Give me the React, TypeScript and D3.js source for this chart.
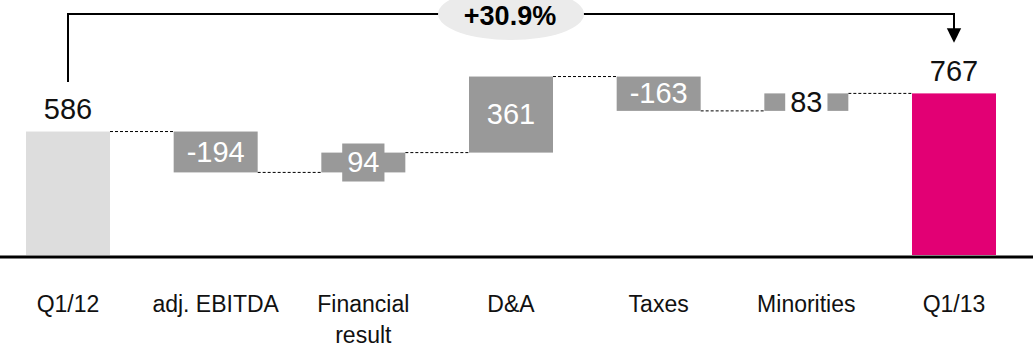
import React from "react";
import * as d3 from "d3";

const categories = ["Q1/12", "adj. EBITDA", "Financial result", "D&A", "Taxes", "Minorities", "Q1/13"];
const categoryLines = [["Q1/12"], ["adj. EBITDA"], ["Financial", "result"], ["D&A"], ["Taxes"], ["Minorities"], ["Q1/13"]];
const values = [586, -194, 94, 361, -163, 83, 767];
const kinds = ["start", "delta", "delta", "delta", "delta", "delta", "end"];

const W = 1033;
const H = 349;
const FONT = "'Liberation Sans', Arial, Helvetica, sans-serif";
const COLORS: Record<string, string> = { start: "#dddddd", delta: "#999999", end: "#e20074" };

export default function App() {
  const x = d3.scalePoint<string>().domain(categories).range([68, 954]);
  const y = d3.scaleLinear().domain([0, 767]).range([255, 93.4]);
  const bw = 84;

  let run = 0;
  const segs = categories.map((c, i) => {
    const v = values[i];
    let from: number, to: number;
    if (kinds[i] === "delta") {
      from = run;
      to = run + v;
      run = to;
    } else {
      from = 0;
      to = v;
      run = v;
    }
    const lo = Math.min(from, to);
    const hi = Math.max(from, to);
    return { c, i, v, lo, hi, from, to, kind: kinds[i] };
  });

  const fs = 29;
  const textW = (s: string) =>
    s.split("").reduce((a, ch) => a + (ch === "-" ? 0.333 : 0.556), 0) * fs;

  const growth = values[values.length - 1] / values[0] - 1;
  const growthLabel = d3.format("+.1%")(growth);
  const x0 = x(categories[0])!;
  const x1 = x(categories[categories.length - 1])!;
  const topY = 14;

  return (
    <svg width={W} height={H} style={{ position: "absolute", left: 0, top: 0 }} fontFamily={FONT}>
      {segs.slice(0, -1).map((s, i) => {
        const n = segs[i + 1];
        const level = s.kind === "delta" ? s.to : s.hi;
        return (
          <line
            key={"c" + i}
            x1={x(s.c)! + bw / 2}
            x2={x(n.c)! - bw / 2}
            y1={y(level)}
            y2={y(level)}
            stroke="#000"
            strokeWidth={1}
            strokeDasharray="3,2"
          />
        );
      })}
      {segs.map((s) => (
        <rect
          key={"b" + s.i}
          x={x(s.c)! - bw / 2}
          y={y(s.hi)}
          width={bw}
          height={y(s.lo) - y(s.hi)}
          fill={COLORS[s.kind]}
        />
      ))}
      {segs.map((s) => {
        const cx = x(s.c)!;
        const label = String(s.v);
        if (s.kind !== "delta") {
          return (
            <text key={"l" + s.i} x={cx} y={y(s.hi) - 12.7} textAnchor="middle" fontSize={fs} fill="#111">
              {label}
            </text>
          );
        }
        const cy = (y(s.lo) + y(s.hi)) / 2;
        const barH = y(s.lo) - y(s.hi);
        const inverted = barH < 19;
        const needBox = barH < 30;
        const tw = textW(label) + 10;
        const boxH = 38;
        return (
          <g key={"l" + s.i}>
            {needBox && (
              <rect
                x={cx - tw / 2}
                y={cy - boxH / 2}
                width={tw}
                height={boxH}
                fill={inverted ? "#ffffff" : COLORS.delta}
              />
            )}
            <text x={cx} y={cy + 9.6} textAnchor="middle" fontSize={fs} fill={inverted ? "#111" : "#ffffff"}>
              {label}
            </text>
          </g>
        );
      })}
      <line x1={0} x2={W} y1={257} y2={257} stroke="#000" strokeWidth={3} />
      {categories.map((c, i) => (
        <text key={"t" + i} x={x(c)!} y={311.5} textAnchor="middle" fontSize={23} fill="#111">
          {categoryLines[i].map((ln, j) => (
            <tspan key={j} x={x(c)!} dy={j === 0 ? 0 : 31.6}>
              {ln}
            </tspan>
          ))}
        </text>
      ))}
      <path
        d={`M${x0},${82} L${x0},${topY} L${x1},${topY} L${x1},${29}`}
        fill="none"
        stroke="#000"
        strokeWidth={2}
      />
      <path d={`M${x1 - 7.2},${28.3} L${x1 + 7.2},${28.3} L${x1},${42.7} Z`} fill="#000" />
      <ellipse cx={(x0 + x1) / 2} cy={topY} rx={73} ry={26} fill="#ebebeb" />
      <text x={(x0 + x1) / 2 - 1} y={25} textAnchor="middle" fontSize={27} fontWeight="bold" fill="#000">
        {growthLabel}
      </text>
    </svg>
  );
}
